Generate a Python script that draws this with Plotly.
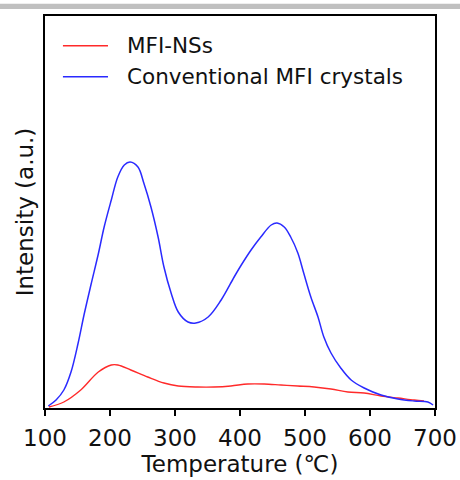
import plotly.graph_objects as go

# Temperature-programmed desorption profiles (intensity in arbitrary units)
temp_conv = [105, 117, 129, 140, 151, 160, 171, 182, 191, 202, 212, 222, 231,
             243, 252, 263, 274, 283, 294, 305, 320, 332, 351, 371, 391, 402, 417,
             432, 448, 457, 468, 478, 489, 498, 509, 520, 529, 540, 555, 571, 591,
             617, 643, 668, 689, 697]
int_conv = [0.5, 2, 4.5, 9, 16.25, 23.25, 31, 38.5, 45.25, 52, 57.75, 60.75,
            61.5, 60.25, 56.25, 50.25, 42.75, 35.25, 28.75, 24, 21.5, 21.25, 22.75, 27,
            32.75, 35.75, 39.5, 42.75, 45.75, 46.25, 45.25, 42.75, 38.75, 33.75, 27.75,
            22.75, 17.75, 13.75, 10, 7, 5, 3.25, 2.25, 1.75, 1.5, 0.75]

temp_ns = [106, 129, 155, 182, 202, 212, 232, 258, 283, 305, 335, 360, 386, 412, 437,
           463, 489, 514, 540, 566, 591, 617, 643, 668, 683]
int_ns = [0.25, 1.5, 4.5, 9, 10.75, 10.75, 9.5, 7.75, 6.25, 5.5, 5.25, 5.25, 5.5, 6,
          6, 5.75, 5.5, 5.25, 4.75, 4, 3.75, 3, 2.5, 2, 1.75]

x_ticks = [100, 200, 300, 400, 500, 600, 700]

series_names = ["MFI-NSs", "Conventional MFI crystals"]
series_colors = ["#ff2a2a", "#2a2aff"]

font_family = "DejaVu Sans"

fig = go.Figure()
fig.add_trace(go.Scatter(x=temp_ns, y=int_ns, mode="lines", name=series_names[0],
                         line=dict(color=series_colors[0], width=1.4, shape="spline", smoothing=1.0)))
fig.add_trace(go.Scatter(x=temp_conv, y=int_conv, mode="lines", name=series_names[1],
                         line=dict(color=series_colors[1], width=1.5, shape="spline", smoothing=1.0)))

# Hand-placed legend: sample line plus label for each series
shapes = [dict(type="rect", xref="paper", yref="paper",
               x0=-45 / 390, x1=415 / 390, y0=1.018, y1=1.031,
               fillcolor="#c0c0c0", line=dict(width=0), layer="above")]
annotations = []
legend_rows = [0.924, 0.845]
for name, color, yy in zip(series_names, series_colors, legend_rows):
    shapes.append(dict(type="line", xref="paper", yref="paper",
                       x0=0.046, x1=0.1615, y0=yy, y1=yy,
                       line=dict(color=color, width=1.4)))
    annotations.append(dict(xref="paper", yref="paper", x=0.205, y=yy,
                            xanchor="left", yanchor="middle", showarrow=False,
                            text=name, font=dict(size=21.5, family=font_family, color="#111")))

fig.update_layout(
    width=460, height=480,
    margin=dict(l=45, r=25, t=16, b=72),
    paper_bgcolor="white", plot_bgcolor="white",
    font=dict(family=font_family, color="#111"),
    showlegend=False,
    xaxis=dict(range=[100, 700], tickvals=x_ticks, ticks="outside", ticklen=6,
               tickwidth=1.5, tickcolor="black", showgrid=False, zeroline=False,
               showline=True, linecolor="black", linewidth=2, mirror=True, automargin=False,
               ticklabelstandoff=2,
               tickfont=dict(size=23), title=dict(text="Temperature (℃)", font=dict(size=23), standoff=4)),
    yaxis=dict(range=[0, 98], showticklabels=False, ticks="", showgrid=False, zeroline=False,
               showline=True, linecolor="black", linewidth=2, mirror=True, automargin=False,
               title=dict(text="Intensity (a.u.)", font=dict(size=23), standoff=3)),
    shapes=shapes,
    annotations=annotations,
)

fig.write_html("out.html")
